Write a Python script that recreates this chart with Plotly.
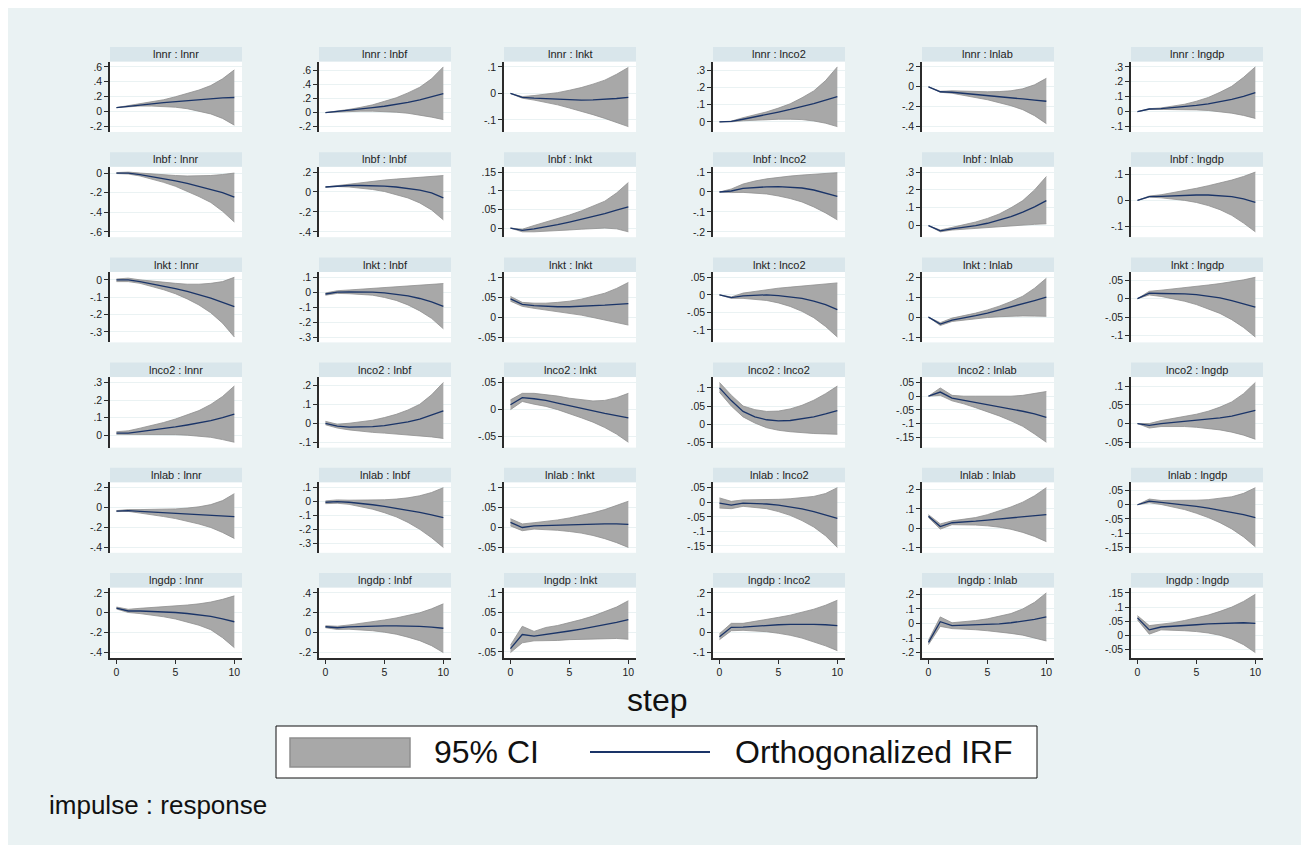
import plotly.graph_objects as go

# ---------------- data ----------------
STEPS = list(range(11))
VARS = ["lnnr", "lnbf", "lnkt", "lnco2", "lnlab", "lngdp"]
XTICKS = [0, 5, 10]

# each list: responses in VARS order (lnnr, lnbf, lnkt, lnco2, lnlab, lngdp)
IRF_lnnr = [
    [.055, .075, .09, .105, .12, .135, .15, .163, .175, .185, .19],
    [0, .015, .03, .05, .07, .09, .115, .145, .18, .225, .27],
    [0, -.015, -.018, -.02, -.022, -.024, -.025, -.024, -.022, -.019, -.015],
    [0, .002, .015, .028, .042, .057, .072, .088, .106, .126, .147],
    [0, -.05, -.055, -.065, -.075, -.087, -.1, -.11, -.122, -.133, -.145],
    [0, .018, .02, .026, .033, .042, .053, .066, .082, .103, .127],
]
LO_lnnr = [
    [.055, .07, .075, .075, .07, .06, .04, .01, -.03, -.09, -.18],
    [0, .01, .015, .02, .02, .015, .005, -.01, -.035, -.065, -.1],
    [0, -.018, -.025, -.033, -.043, -.055, -.067, -.08, -.094, -.11, -.125],
    [0, 0, .006, .01, .013, .015, .015, .013, .005, -.008, -.028],
    [0, -.055, -.065, -.085, -.105, -.13, -.16, -.19, -.23, -.29, -.37],
    [0, .015, .015, .015, .014, .012, .008, 0, -.01, -.025, -.045],
]
HI_lnnr = [
    [.055, .08, .1, .13, .16, .2, .24, .29, .35, .44, .56],
    [0, .02, .045, .075, .11, .16, .21, .28, .36, .48, .65],
    [0, -.012, -.008, -.003, .003, .012, .022, .035, .05, .072, .098],
    [0, .004, .024, .04, .058, .08, .105, .14, .18, .24, .32],
    [0, -.045, -.04, -.045, -.048, -.05, -.048, -.04, -.02, .02, .085],
    [0, .02, .025, .035, .05, .07, .095, .13, .17, .23, .3],
]
YTICKS_lnnr = [
    [-.2, 0, .2, .4, .6], [-.2, 0, .2, .4, .6], [-.1, 0, .1],
    [0, .1, .2, .3], [-.4, -.2, 0, .2], [-.1, 0, .1, .2, .3],
]

IRF_lnbf = [
    [0, 0, -.015, -.035, -.055, -.08, -.105, -.135, -.165, -.2, -.245],
    [.05, .06, .065, .065, .063, .058, .05, .037, .018, -.01, -.06],
    [0, -.006, -.002, .003, .009, .016, .023, .031, .039, .048, .057],
    [0, .005, .018, .023, .026, .027, .025, .02, .01, -.005, -.022],
    [0, -.03, -.018, -.01, 0, .013, .03, .05, .075, .105, .14],
    [0, .015, .016, .018, .02, .021, .021, .019, .015, .006, -.008],
]
LO_lnbf = [
    [-.005, -.01, -.03, -.06, -.095, -.135, -.185, -.24, -.3, -.39, -.5],
    [.05, .055, .05, .04, .025, .005, -.025, -.06, -.11, -.18, -.28],
    [0, -.01, -.01, -.009, -.007, -.005, -.003, -.001, 0, -.002, -.01],
    [0, -.003, -.002, -.005, -.01, -.02, -.033, -.05, -.075, -.105, -.14],
    [0, -.035, -.025, -.02, -.015, -.01, -.005, 0, .005, .007, .01],
    [0, .013, .01, .006, 0, -.008, -.02, -.036, -.058, -.088, -.122],
]
HI_lnbf = [
    [.005, .01, 0, -.01, -.02, -.025, -.03, -.03, -.025, -.015, 0],
    [.05, .065, .08, .095, .11, .12, .13, .14, .15, .155, .165],
    [0, -.003, .007, .016, .025, .035, .046, .058, .072, .094, .122],
    [0, .015, .04, .055, .066, .074, .08, .085, .09, .093, .097],
    [0, -.025, -.01, .003, .02, .04, .065, .1, .14, .2, .275],
    [0, .017, .022, .03, .038, .047, .057, .067, .079, .093, .11],
]
YTICKS_lnbf = [
    [-.6, -.4, -.2, 0], [-.4, -.2, 0, .2], [0, .05, .1, .15],
    [-.2, -.1, 0, .1], [0, .1, .2, .3], [-.1, 0, .1],
]

IRF_lnkt = [
    [0, 0, -.01, -.022, -.035, -.05, -.067, -.085, -.105, -.13, -.155],
    [-.012, 0, .002, .003, 0, -.005, -.013, -.025, -.042, -.065, -.095],
    [.046, .032, .029, .027, .026, .026, .027, .028, .03, .032, .034],
    [0, -.008, -.003, -.001, 0, -.002, -.005, -.01, -.018, -.028, -.042],
    [0, -.035, -.015, -.005, .007, .02, .035, .05, .066, .083, .1],
    [0, .015, .014, .014, .013, .011, .007, .002, -.005, -.013, -.023],
]
LO_lnkt = [
    [-.01, -.01, -.02, -.037, -.057, -.08, -.11, -.145, -.19, -.25, -.33],
    [-.02, -.008, -.01, -.013, -.02, -.035, -.055, -.085, -.125, -.175, -.245],
    [.04, .027, .022, .018, .014, .01, .005, -.001, -.007, -.013, -.02],
    [0, -.01, -.01, -.012, -.016, -.023, -.033, -.047, -.065, -.09, -.12],
    [0, -.042, -.022, -.015, -.008, -.002, .002, .005, .006, .005, .004],
    [0, .01, .006, 0, -.007, -.016, -.027, -.04, -.057, -.078, -.104],
]
HI_lnkt = [
    [.005, .01, 0, -.008, -.015, -.02, -.025, -.025, -.02, -.01, .015],
    [-.005, .01, .015, .02, .025, .03, .035, .04, .045, .05, .058],
    [.052, .037, .035, .035, .037, .04, .045, .052, .06, .072, .087],
    [0, -.006, .005, .01, .015, .019, .022, .025, .028, .031, .034],
    [0, -.028, -.005, .007, .02, .036, .055, .078, .105, .145, .195],
    [0, .02, .023, .027, .03, .033, .037, .041, .045, .051, .058],
]
YTICKS_lnkt = [
    [-.3, -.2, -.1, 0], [-.3, -.2, -.1, 0, .1], [-.05, 0, .05, .1],
    [-.1, -.05, 0, .05], [-.1, 0, .1, .2], [-.1, -.05, 0, .05],
]

IRF_lnco2 = [
    [.012, .012, .02, .028, .037, .047, .058, .07, .083, .1, .12],
    [0, -.015, -.02, -.02, -.018, -.013, -.005, .007, .022, .042, .065],
    [.009, .022, .02, .017, .012, .007, .002, -.003, -.007, -.011, -.015],
    [.1, .065, .035, .02, .012, .009, .01, .014, .02, .028, .037],
    [0, .015, -.007, -.015, -.022, -.03, -.037, -.045, -.055, -.065, -.077],
    [0, -.005, 0, .003, .005, .008, .011, .015, .02, .027, .035],
]
LO_lnco2 = [
    [.005, .005, .006, .006, .005, .003, 0, -.005, -.012, -.025, -.04],
    [-.008, -.025, -.035, -.042, -.048, -.052, -.056, -.06, -.065, -.072, -.08],
    [0, .015, .01, .006, 0, -.007, -.015, -.023, -.033, -.045, -.06],
    [.088, .05, .02, .003, -.01, -.017, -.021, -.024, -.026, -.027, -.028],
    [0, .003, -.017, -.028, -.042, -.057, -.072, -.09, -.11, -.138, -.168],
    [0, -.012, -.008, -.007, -.008, -.01, -.013, -.017, -.023, -.031, -.042],
]
HI_lnco2 = [
    [.02, .025, .04, .055, .072, .092, .115, .14, .175, .22, .28],
    [.01, -.005, 0, .007, .016, .03, .047, .07, .1, .15, .215],
    [.018, .03, .03, .028, .025, .021, .018, .016, .017, .022, .03],
    [.115, .08, .05, .04, .035, .036, .042, .052, .066, .084, .105],
    [0, .03, .003, 0, 0, 0, 0, 0, .003, .01, .017],
    [0, 0, .008, .013, .018, .025, .033, .044, .058, .08, .11],
]
YTICKS_lnco2 = [
    [0, .1, .2, .3], [-.1, 0, .1, .2], [-.05, 0, .05],
    [-.05, 0, .05, .1], [-.15, -.1, -.05, 0, .05], [-.05, 0, .05, .1],
]

IRF_lnlab = [
    [-.035, -.03, -.038, -.045, -.052, -.06, -.067, -.075, -.082, -.087, -.09],
    [-.005, 0, -.005, -.013, -.023, -.035, -.048, -.062, -.078, -.095, -.115],
    [.013, 0, .004, .005, .006, .007, .008, .009, .009, .009, .008],
    [-.003, -.01, -.003, -.004, -.006, -.01, -.016, -.023, -.032, -.043, -.055],
    [.062, .008, .028, .031, .036, .042, .048, .054, .06, .065, .07],
    [0, .013, .008, .004, -.001, -.006, -.012, -.019, -.026, -.035, -.045],
]
LO_lnlab = [
    [-.04, -.038, -.055, -.07, -.09, -.11, -.135, -.165, -.2, -.25, -.31],
    [-.015, -.012, -.02, -.035, -.055, -.08, -.11, -.15, -.2, -.26, -.33],
    [.004, -.008, -.004, -.005, -.007, -.01, -.014, -.02, -.028, -.038, -.05],
    [-.02, -.022, -.014, -.017, -.022, -.032, -.045, -.063, -.085, -.115, -.155],
    [.055, -.005, .018, .018, .016, .012, .005, -.006, -.022, -.043, -.07],
    [0, .007, .001, -.007, -.017, -.03, -.045, -.063, -.085, -.113, -.148],
]
HI_lnlab = [
    [-.03, -.02, -.02, -.02, -.018, -.013, -.005, .008, .03, .07, .14],
    [.005, .012, .01, .01, .01, .013, .018, .027, .042, .065, .1],
    [.022, .009, .012, .015, .019, .024, .03, .037, .045, .055, .066],
    [.015, .003, .008, .008, .009, .01, .012, .015, .02, .03, .05],
    [.07, .022, .038, .045, .055, .07, .088, .11, .135, .168, .21],
    [0, .02, .015, .015, .015, .016, .018, .022, .028, .04, .06],
]
YTICKS_lnlab = [
    [-.4, -.2, 0, .2], [-.3, -.2, -.1, 0, .1], [-.05, 0, .05, .1],
    [-.15, -.1, -.05, 0, .05], [-.1, 0, .1, .2], [-.15, -.1, -.05, 0, .05],
]

IRF_lngdp = [
    [.048, .018, .018, .015, .01, .003, -.007, -.02, -.037, -.06, -.09],
    [.06, .05, .058, .063, .066, .068, .069, .068, .064, .056, .045],
    [-.042, -.006, -.01, -.006, -.002, .003, .008, .013, .019, .025, .032],
    [-.02, .027, .028, .033, .037, .04, .042, .043, .042, .04, .036],
    [-.13, .012, -.015, -.012, -.011, -.008, -.003, .005, .015, .028, .045],
    [.062, .02, .03, .032, .035, .038, .041, .043, .045, .045, .043],
]
LO_lngdp = [
    [.038, .003, -.008, -.022, -.04, -.062, -.09, -.125, -.17, -.25, -.35],
    [.05, .033, .035, .03, .02, .005, -.015, -.045, -.08, -.13, -.2],
    [-.052, -.027, -.022, -.022, -.021, -.019, -.018, -.017, -.016, -.016, -.018],
    [-.035, .01, .012, .01, .005, -.003, -.013, -.027, -.045, -.066, -.09],
    [-.145, -.02, -.035, -.038, -.043, -.05, -.058, -.068, -.08, -.098, -.12],
    [.055, .005, .02, .019, .017, .014, .009, .001, -.012, -.032, -.06],
]
HI_lngdp = [
    [.058, .035, .045, .052, .06, .068, .078, .09, .108, .135, .17],
    [.07, .065, .078, .093, .11, .128, .148, .172, .2, .24, .29],
    [-.033, .015, .002, .012, .017, .024, .032, .041, .052, .064, .08],
    [-.005, .047, .047, .056, .066, .077, .088, .102, .118, .138, .163],
    [-.115, .045, .005, .012, .02, .032, .048, .068, .1, .145, .21],
    [.07, .035, .04, .045, .053, .062, .072, .085, .1, .12, .145],
]
YTICKS_lngdp = [
    [-.4, -.2, 0, .2], [-.2, 0, .2, .4], [-.05, 0, .05, .1],
    [-.1, 0, .1, .2], [-.2, -.1, 0, .1, .2], [-.05, 0, .05, .1, .15],
]

IRF = {"lnnr": IRF_lnnr, "lnbf": IRF_lnbf, "lnkt": IRF_lnkt,
       "lnco2": IRF_lnco2, "lnlab": IRF_lnlab, "lngdp": IRF_lngdp}
LO = {"lnnr": LO_lnnr, "lnbf": LO_lnbf, "lnkt": LO_lnkt,
      "lnco2": LO_lnco2, "lnlab": LO_lnlab, "lngdp": LO_lngdp}
HI = {"lnnr": HI_lnnr, "lnbf": HI_lnbf, "lnkt": HI_lnkt,
      "lnco2": HI_lnco2, "lnlab": HI_lnlab, "lngdp": HI_lngdp}
YTICKS = {"lnnr": YTICKS_lnnr, "lnbf": YTICKS_lnbf, "lnkt": YTICKS_lnkt,
          "lnco2": YTICKS_lnco2, "lnlab": YTICKS_lnlab, "lngdp": YTICKS_lngdp}

# ---------------- style / layout ----------------
# The page body has an 8px margin; the figure is placed at (8, 8) of the window.
OFF = 8
W, H = 1293, 837
FONT = "Liberation Sans, Arial, sans-serif"
BG = "#eaf2f3"
STRIP = "#d9e6eb"
CI_FILL = "#a8a8a8"
CI_EDGE = "#8f8f8f"
LINE = "#1a3468"
AXIS = "#2b2b2b"

COL_LEFT = [110, 319, 504, 713, 922, 1131]   # window pixel positions
PANEL_W = 132
ROW_TOP0, ROW_PITCH = 47, 105.2
STRIP_H, PANEL_H = 14.5, 85


def px(x):
    return (x - OFF) / W


def py(y):
    return 1 - (y - OFF) / H


def fmt(v):
    if abs(v) < 1e-12:
        return "0"
    s = f"{v:g}"
    if s.startswith("0."):
        s = s[1:]
    elif s.startswith("-0."):
        s = "-" + s[2:]
    return s


fig = go.Figure()
shapes = []
annotations = []

layout_axes = {}
for r, imp in enumerate(VARS):
    top = ROW_TOP0 + ROW_PITCH * r
    for c, resp in enumerate(VARS):
        i = r * 6 + c + 1
        xa = "x" if i == 1 else f"x{i}"
        ya = "y" if i == 1 else f"y{i}"
        lo = LO[imp][c]
        hi = HI[imp][c]
        ir = IRF[imp][c]
        ticks = YTICKS[imp][c]
        fig.add_trace(go.Scatter(x=STEPS, y=hi, mode="lines", xaxis=xa, yaxis=ya,
                                 line=dict(color=CI_EDGE, width=0.8), showlegend=False,
                                 hoverinfo="skip"))
        fig.add_trace(go.Scatter(x=STEPS, y=lo, mode="lines", xaxis=xa, yaxis=ya,
                                 fill="tonexty", fillcolor=CI_FILL,
                                 line=dict(color=CI_EDGE, width=0.8), showlegend=False,
                                 hoverinfo="skip"))
        fig.add_trace(go.Scatter(x=STEPS, y=ir, mode="lines", xaxis=xa, yaxis=ya,
                                 line=dict(color=LINE, width=1.3), showlegend=False,
                                 name=f"{imp} : {resp}"))
        vmin = min(ticks[0], min(lo))
        vmax = max(ticks[-1], max(hi))
        pad = 0.09 * (vmax - vmin)
        left = COL_LEFT[c]
        xdom = [px(left), px(left + PANEL_W)]
        ydom = [py(top + PANEL_H), py(top + STRIP_H)]
        bottom_row = (r == 5)
        xkey = "xaxis" if i == 1 else f"xaxis{i}"
        ykey = "yaxis" if i == 1 else f"yaxis{i}"
        layout_axes[xkey] = dict(
            domain=xdom, anchor=ya, range=[-0.55, 10.65], visible=bottom_row,
            showgrid=False, zeroline=False, showline=bottom_row, linecolor=AXIS,
            linewidth=1.5, ticks="outside" if bottom_row else "", ticklen=4,
            tickcolor=AXIS, tickvals=XTICKS, ticktext=[fmt(t) for t in XTICKS],
            tickfont=dict(family=FONT, size=10.5, color="#222"), fixedrange=True)
        layout_axes[ykey] = dict(
            domain=ydom, anchor=xa, range=[vmin - pad, vmax + pad],
            showgrid=True, gridcolor=BG, gridwidth=1, zeroline=False,
            showline=True, linecolor=AXIS, linewidth=1.5, ticks="outside",
            ticklen=4, tickcolor=AXIS, tickvals=ticks,
            ticktext=[fmt(t) for t in ticks],
            tickfont=dict(family=FONT, size=10.5, color="#222"), fixedrange=True)
        # strip
        shapes.append(dict(type="rect", xref="paper", yref="paper",
                           x0=px(left), x1=px(left + PANEL_W),
                           y0=py(top + STRIP_H), y1=py(top),
                           fillcolor=STRIP, line=dict(width=0), layer="below"))
        annotations.append(dict(xref="paper", yref="paper", x=px(left + PANEL_W / 2),
                                y=py(top + STRIP_H / 2), text=f"{imp} : {resp}",
                                showarrow=False, xanchor="center", yanchor="middle",
                                font=dict(family=FONT, size=11, color="#222")))

# x title
annotations.append(dict(xref="paper", yref="paper", x=px(657), y=py(700), text="step",
                        showarrow=False, xanchor="center", yanchor="middle",
                        font=dict(family=FONT, size=32, color="#111")))
# legend box
shapes.append(dict(type="rect", xref="paper", yref="paper", x0=px(276), x1=px(1037),
                   y0=py(778), y1=py(726), fillcolor="white",
                   line=dict(color="#111", width=1)))
shapes.append(dict(type="rect", xref="paper", yref="paper", x0=px(290), x1=px(410),
                   y0=py(767), y1=py(738), fillcolor=CI_FILL,
                   line=dict(color=CI_EDGE, width=1.5)))
shapes.append(dict(type="line", xref="paper", yref="paper", x0=px(590), x1=px(710),
                   y0=py(752), y1=py(752), line=dict(color=LINE, width=1.8)))
annotations.append(dict(xref="paper", yref="paper", x=px(432), y=py(752), text="95% CI",
                        showarrow=False, xanchor="left", yanchor="middle",
                        font=dict(family=FONT, size=32, color="#111")))
annotations.append(dict(xref="paper", yref="paper", x=px(733), y=py(752),
                        text="Orthogonalized IRF", showarrow=False, xanchor="left",
                        yanchor="middle", font=dict(family=FONT, size=32, color="#111")))
annotations.append(dict(xref="paper", yref="paper", x=px(47), y=py(805),
                        text="impulse : response", showarrow=False, xanchor="left",
                        yanchor="middle", font=dict(family=FONT, size=26, color="#111")))

fig.update_layout(
    width=W, height=H, autosize=False,
    margin=dict(l=0, r=0, t=0, b=0, pad=0),
    paper_bgcolor=BG, plot_bgcolor="white",
    showlegend=False, shapes=shapes, annotations=annotations,
    font=dict(family=FONT), **layout_axes)

fig.write_html("out.html")
